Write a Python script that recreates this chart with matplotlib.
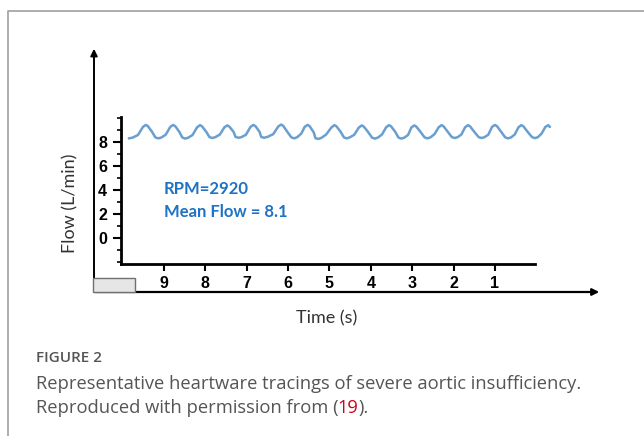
import matplotlib
matplotlib.use("Agg")
import matplotlib.pyplot as plt
from matplotlib.patches import Rectangle, FancyArrowPatch
import numpy as np

time_s = [
    9.85, 9.76, 9.63, 9.51, 9.44, 9.39, 9.29, 9.21,
    9.14, 9.07, 8.96, 8.85, 8.78, 8.73, 8.63, 8.56,
    8.49, 8.42, 8.31, 8.20, 8.13, 8.08, 7.98, 7.90,
    7.83, 7.76, 7.65, 7.54, 7.47, 7.42, 7.32, 7.27,
    7.20, 7.13, 7.02, 6.91, 6.84, 6.79, 6.69, 6.65,
    6.58, 6.50, 6.36, 6.24, 6.17, 6.12, 6.02, 5.92,
    5.85, 5.78, 5.68, 5.60, 5.53, 5.48, 5.38, 5.34,
    5.27, 5.20, 5.08, 4.95, 4.88, 4.83, 4.73, 4.65,
    4.58, 4.51, 4.40, 4.29, 4.22, 4.17, 4.07, 3.97,
    3.90, 3.83, 3.73, 3.63, 3.56, 3.51, 3.41, 3.33,
    3.26, 3.19, 3.10, 3.02, 2.95, 2.90, 2.80, 2.70,
    2.63, 2.56, 2.46, 2.36, 2.29, 2.24, 2.14, 2.04,
    1.97, 1.90, 1.81, 1.72, 1.65, 1.60, 1.50, 1.39,
    1.32, 1.25, 1.16, 1.07, 1.00, 0.95, 0.85, 0.75,
    0.68, 0.61, 0.52, 0.43, 0.36, 0.31, 0.21, 0.10,
    0.03, -0.04, -0.13, -0.22, -0.29, -0.33,
]
flow = [
    8.30, 8.36, 8.58, 9.25, 9.42, 9.32, 8.85, 8.38,
    8.30, 8.36, 8.60, 9.25, 9.42, 9.32, 8.85, 8.38,
    8.28, 8.35, 8.58, 9.22, 9.40, 9.30, 8.85, 8.40,
    8.33, 8.40, 8.62, 9.22, 9.38, 9.28, 8.85, 8.42,
    8.35, 8.40, 8.60, 9.25, 9.42, 9.32, 8.85, 8.42,
    8.35, 8.42, 8.65, 9.28, 9.45, 9.35, 8.85, 8.38,
    8.30, 8.40, 8.70, 9.25, 9.42, 9.32, 8.80, 8.32,
    8.25, 8.33, 8.62, 9.22, 9.40, 9.30, 8.85, 8.38,
    8.30, 8.38, 8.60, 9.20, 9.38, 9.28, 8.85, 8.36,
    8.28, 8.36, 8.62, 9.22, 9.40, 9.30, 8.85, 8.36,
    8.28, 8.36, 8.58, 9.20, 9.38, 9.28, 8.85, 8.38,
    8.30, 8.38, 8.65, 9.22, 9.40, 9.30, 8.85, 8.40,
    8.33, 8.40, 8.62, 9.22, 9.40, 9.30, 8.85, 8.40,
    8.33, 8.40, 8.60, 9.25, 9.42, 9.32, 8.85, 8.38,
    8.30, 8.38, 8.62, 9.22, 9.40, 9.30, 8.85, 8.40,
    8.32, 8.40, 8.70, 9.25, 9.40, 9.25,
]

y_ticks = [0, 2, 4, 6, 8]
x_ticks = [9, 8, 7, 6, 5, 4, 3, 2, 1]

W, H = 644, 436
fig = plt.figure(figsize=(W / 100, H / 100), dpi=100)

# full-figure overlay in pixel units for the frame, arrows and caption
bg = fig.add_axes([0, 0, 1, 1])
bg.set_xlim(0, W)
bg.set_ylim(H, 0)
bg.axis("off")

# card border
bg.plot([8, 8, W], [H, 11, 11], color="#a0a0a0", lw=1.2)

# outer axis arrows
bg.add_patch(FancyArrowPatch((94, 293), (94, 46), arrowstyle="-|>", mutation_scale=10,
                             color="black", lw=1.4))
bg.add_patch(FancyArrowPatch((92, 292), (602, 292), arrowstyle="-|>", mutation_scale=10,
                             color="black", lw=1.6))
bg.add_patch(Rectangle((93, 278), 42, 14, facecolor="#e6e6e6", edgecolor="#707070", lw=1))

bg.text(327, 318, "Time (s)", ha="center", va="center", fontsize=13,
        family="Lato", color="#333333")
bg.text(70, 203, "Flow (L/min)", ha="center", va="center", fontsize=13,
        family="Lato", color="#333333", rotation=90)

# caption
cap = dict(ha="left", va="center", family="Open Sans", color="#555555")
bg.text(36, 358, "FIGURE 2", fontsize=11, fontweight="semibold", **cap)
bg.text(36, 384, "Representative heartware tracings of severe aortic insufficiency.",
        fontsize=13.2, **cap)
t1 = bg.text(36, 408, "Reproduced with permission from (", fontsize=13.2, **cap)

fig.canvas.draw()
inv = bg.transData.inverted()
x_end = inv.transform(t1.get_window_extent().p1)[0]
cap_red = dict(cap, color="#d0021b")
t2 = bg.text(x_end - 1, 408, "19", fontsize=13.2, **cap_red)
fig.canvas.draw()
x_end2 = inv.transform(t2.get_window_extent().p1)[0]
bg.text(x_end2, 408, ").", fontsize=13.2, **cap)

# inner tracing panel
left, right, top, bottom = 121, 535, 117, 264
ax = fig.add_axes([left / W, (H - bottom) / H, (right - left) / W, (bottom - top) / H])
ax.patch.set_alpha(0)
ax.plot(time_s, flow, color="#6a9fcf", lw=1.8, clip_on=False,
        solid_joinstyle="round", solid_capstyle="round")
ax.set_xlim(10.04, 0.03)
ax.set_ylim(-2.17, 10.08)

ax.spines["top"].set_visible(False)
ax.spines["right"].set_visible(False)
ax.spines["left"].set_linewidth(2)
ax.spines["bottom"].set_linewidth(2)

tick_font = dict(family="Liberation Sans", fontweight="bold", fontsize=11.5)
ax.set_yticks(y_ticks, labels=[str(v) for v in y_ticks], **tick_font)
ax.set_yticks(np.arange(-2, 11, 1), minor=True)
ax.set_xticks(x_ticks, labels=[str(v) for v in x_ticks], **tick_font)
ax.tick_params(axis="y", which="major", length=6, width=1.5, pad=4)
ax.tick_params(axis="y", which="minor", length=3, width=1.2)
ax.tick_params(axis="x", which="major", length=5, width=1.5, pad=4)

ax.text(164, 189, "RPM=2920", transform=bg.transData, ha="left", va="center",
        fontsize=12, family="Lato", fontweight="bold", color="#1f72c4")
ax.text(164, 212, "Mean Flow = 8.1", transform=bg.transData, ha="left", va="center",
        fontsize=12, family="Lato", fontweight="bold", color="#1f72c4")

fig.savefig("out.png", dpi=100)
